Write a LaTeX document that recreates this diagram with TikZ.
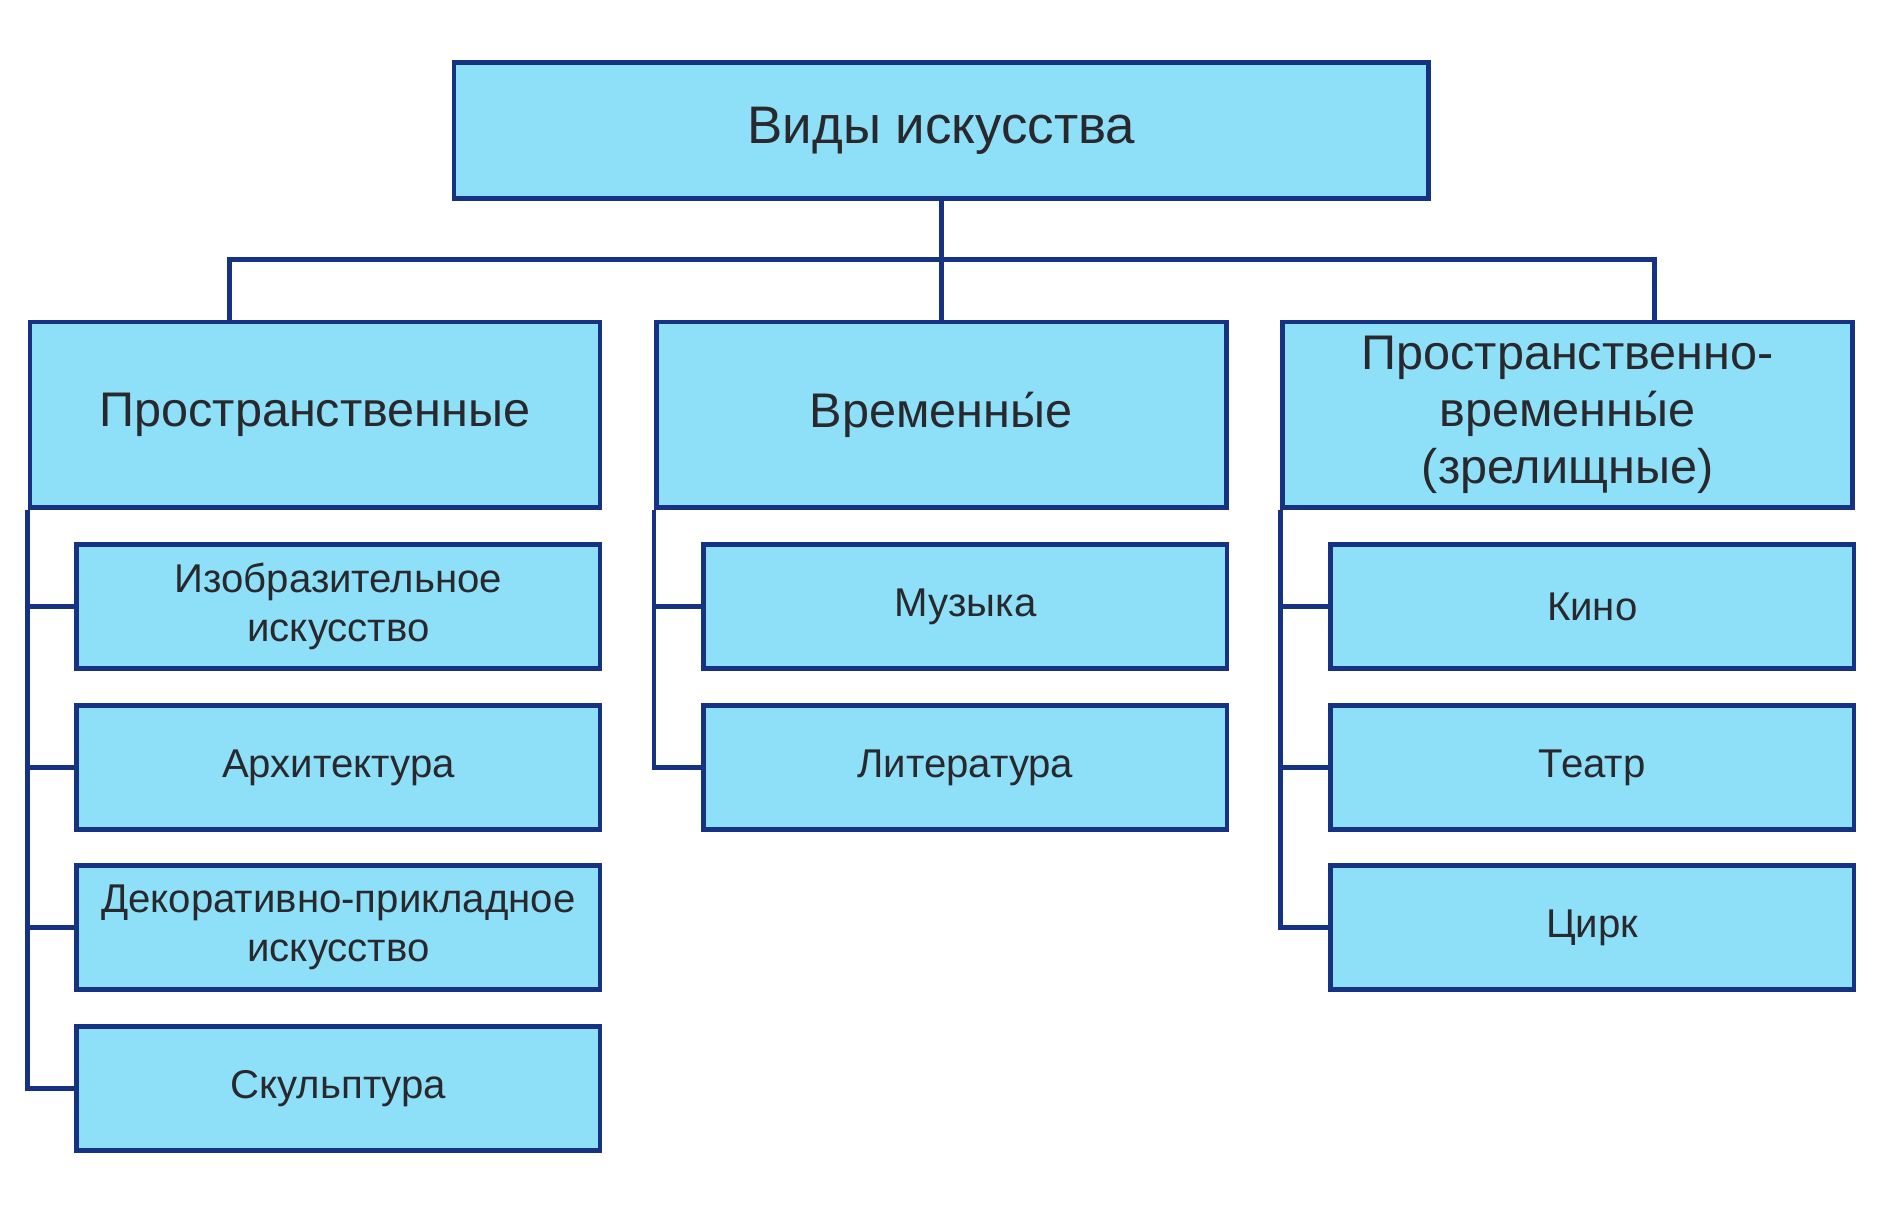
\documentclass[tikz,border=0pt]{standalone}
\usepackage{fontspec}
\setmainfont{Liberation Sans}
\usetikzlibrary{positioning}
\definecolor{fon}{RGB}{142, 223, 248}
\definecolor{rama}{RGB}{22, 50, 130}
\definecolor{tekst}{RGB}{40, 40, 45}
\tikzset{
    box/.style={draw=rama, fill=fon, text=tekst, line width=1.1pt, align=center, inner sep=2pt},
    glav/.style={box, minimum width=8.1cm, minimum height=1.13cm, font=\fontsize{12.5}{15}\selectfont},
    vid/.style={box, minimum width=4.74cm, minimum height=1.54cm, font=\fontsize{11.5}{13.5}\selectfont},
    zhanr/.style={box, minimum width=4.35cm, minimum height=1.03cm, font=\fontsize{9.5}{11.5}\selectfont},
    conn/.style={-, rama, line width=1.1pt},
}
\begin{document}
\begin{tikzpicture}[x=0.01cm, y=-0.01cm]
    \useasboundingbox (0,0) rectangle (1568,1012);
    \node [glav] (top) at (783,108.5) {Виды  искусства};

    \node [vid] (l) at (262,345) {Пространственные};
    \node [vid] (m) at (783,345) {Временны́е};
    \node [vid] (r) at (1304,345) {Пространственно-\\временны́е\\(зрелищные)};

    \node [zhanr] (l1) at (281.5,504.5) {Изобразительное\\искусство};
    \node [zhanr] (l2) at (281.5,638.5) {Архитектура};
    \node [zhanr] (l3) at (281.5,771.5) {Декоративно-прикладное\\искусство};
    \node [zhanr] (l4) at (281.5,905.5) {Скульптура};

    \node [zhanr] (m1) at (803,504.5) {Музыка};
    \node [zhanr] (m2) at (803,638.5) {Литература};

    \node [zhanr] (r1) at (1324.5,504.5) {Кино};
    \node [zhanr] (r2) at (1324.5,638.5) {Театр};
    \node [zhanr] (r3) at (1324.5,771.5) {Цирк};

    \coordinate (bus) at (783,216);
    \coordinate (lj) at (191,268);
    \coordinate (rj) at (1376,268);

    \draw[conn] (top.south) -- (m.north);
    \draw[conn] (lj) |- (bus) -| (rj);

    \draw[conn] (l.south west) |- (l4.west);
    \draw[conn] (l.south west |- l1.west) -- (l1.west);
    \draw[conn] (l.south west |- l2.west) -- (l2.west);
    \draw[conn] (l.south west |- l3.west) -- (l3.west);

    \draw[conn] (m.south west) |- (m2.west);
    \draw[conn] (m.south west |- m1.west) -- (m1.west);

    \draw[conn] (r.south west) |- (r3.west);
    \draw[conn] (r.south west |- r1.west) -- (r1.west);
    \draw[conn] (r.south west |- r2.west) -- (r2.west);
\end{tikzpicture}
\end{document}
